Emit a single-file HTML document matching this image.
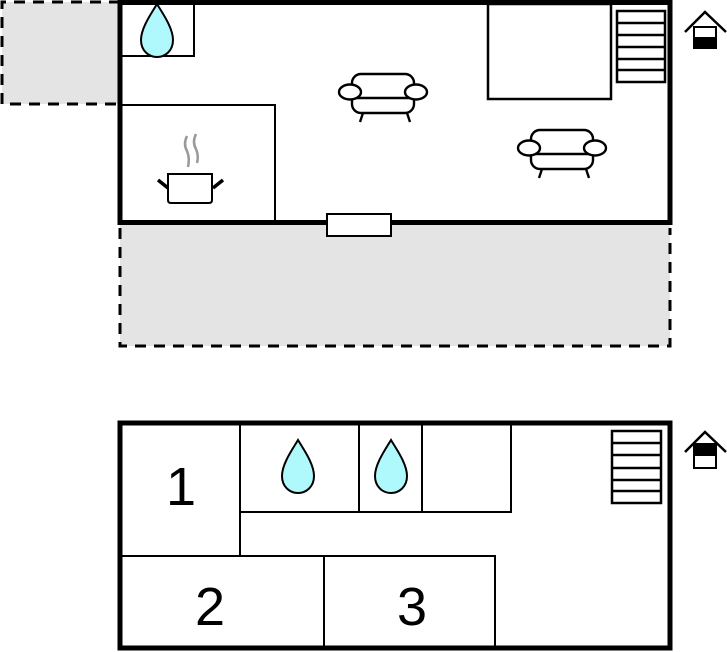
<!DOCTYPE html>
<html><head><meta charset="utf-8"><style>html,body{margin:0;padding:0;background:#fff}svg{display:block}</style></head>
<body>
<svg width="727" height="652" viewBox="0 0 727 652" xmlns="http://www.w3.org/2000/svg" font-family="Liberation Sans, sans-serif">
<defs>
<g id="sofa" fill="#fff" stroke="#000" stroke-width="2.4">
<line x1="-20" y1="21" x2="-23" y2="30"/><line x1="24" y1="21" x2="27" y2="30"/>
<rect x="-31" y="-18" width="62" height="39" rx="9"/>
<line x1="-31" y1="6" x2="31" y2="6"/>
<ellipse cx="-33" cy="0" rx="11" ry="7.5"/><ellipse cx="33" cy="0" rx="11" ry="7.5"/>
</g>
<path id="drop" d="M0,0 C-6,10 -16,24 -16,36 C-16,47 -8,53 0,53 C8,53 16,47 16,36 C16,24 6,10 0,0 Z" fill="#aff8fb" stroke="#000" stroke-width="2"/>
</defs>
<rect x="2" y="2" width="118" height="102" fill="#e4e4e4"/>
<path d="M120,2 H2 V104 H120" fill="none" stroke="#000" stroke-width="3" stroke-dasharray="11,8"/>
<rect x="120" y="224" width="550" height="122" fill="#e4e4e4"/>
<path d="M120,228 V346 H670 V228" fill="none" stroke="#000" stroke-width="3" stroke-dasharray="11,8"/>
<rect x="120" y="2.5" width="550" height="220" fill="#fff" stroke="#000" stroke-width="5"/>
<rect x="120" y="4" width="74" height="52" fill="none" stroke="#000" stroke-width="2"/>
<use href="#drop" x="157" y="4"/>
<path d="M120,105 H275 V222" fill="none" stroke="#000" stroke-width="2"/>
<rect x="488" y="4" width="123" height="95" fill="none" stroke="#000" stroke-width="2.5"/>
<g fill="none" stroke="#000" stroke-width="2.5"><rect x="617" y="11" width="48" height="71"/>
<line x1="617" y1="23" x2="665" y2="23"/><line x1="617" y1="35" x2="665" y2="35"/><line x1="617" y1="47" x2="665" y2="47"/><line x1="617" y1="59" x2="665" y2="59"/><line x1="617" y1="70" x2="665" y2="70"/></g>
<rect x="327" y="214" width="64" height="22" fill="#fff" stroke="#000" stroke-width="2"/>
<use href="#sofa" x="383" y="92"/>
<use href="#sofa" x="562" y="148"/>
<g stroke="#000" stroke-width="2" fill="#fff">
<line x1="158" y1="180" x2="168" y2="188" stroke-width="3.5"/><line x1="213" y1="188" x2="223" y2="180" stroke-width="3.5"/>
<path d="M168,174 H212 V200 Q212,203 209,203 H171 Q168,203 168,200 Z"/>
</g>
<g fill="none" stroke="#999" stroke-width="2.5">
<path d="M187,136 Q183,144 187,151 Q190,158 188,167"/><path d="M196,134 Q192,142 196,149 Q199,156 197,163"/>
</g>
<g><path d="M685,32 L705,12 L726,32" fill="none" stroke="#000" stroke-width="2.5"/>
<rect x="694" y="27" width="22" height="21" fill="#fff" stroke="#000" stroke-width="2"/><rect x="694" y="37" width="22" height="11" fill="#000"/></g>
<rect x="120" y="423" width="550" height="225" fill="#fff" stroke="#000" stroke-width="5"/>
<g fill="none" stroke="#000" stroke-width="2">
<path d="M240,423 V556"/><path d="M120,556 H495 V648"/><path d="M324,556 V648"/>
<path d="M240,512 H511 V423"/><path d="M359,423 V512"/><path d="M422,423 V512"/>
</g>
<g fill="none" stroke="#000" stroke-width="2.5">
<rect x="612" y="431" width="49" height="72"/>
<line x1="612" y1="443" x2="661" y2="443"/><line x1="612" y1="455" x2="661" y2="455"/><line x1="612" y1="468" x2="661" y2="468"/><line x1="612" y1="480" x2="661" y2="480"/><line x1="612" y1="491" x2="661" y2="491"/>
</g>
<use href="#drop" x="298" y="440"/>
<use href="#drop" x="391" y="440"/>
<text x="181" y="505" font-size="54" text-anchor="middle">1</text>
<text x="210" y="625" font-size="54" text-anchor="middle">2</text>
<text x="412" y="625" font-size="54" text-anchor="middle">3</text>
<g><path d="M685,452 L705,432 L726,452" fill="none" stroke="#000" stroke-width="2.5"/>
<rect x="694" y="444" width="22" height="24" fill="#fff" stroke="#000" stroke-width="2"/><rect x="694" y="444" width="22" height="12" fill="#000"/></g>
</svg>
</body></html>
